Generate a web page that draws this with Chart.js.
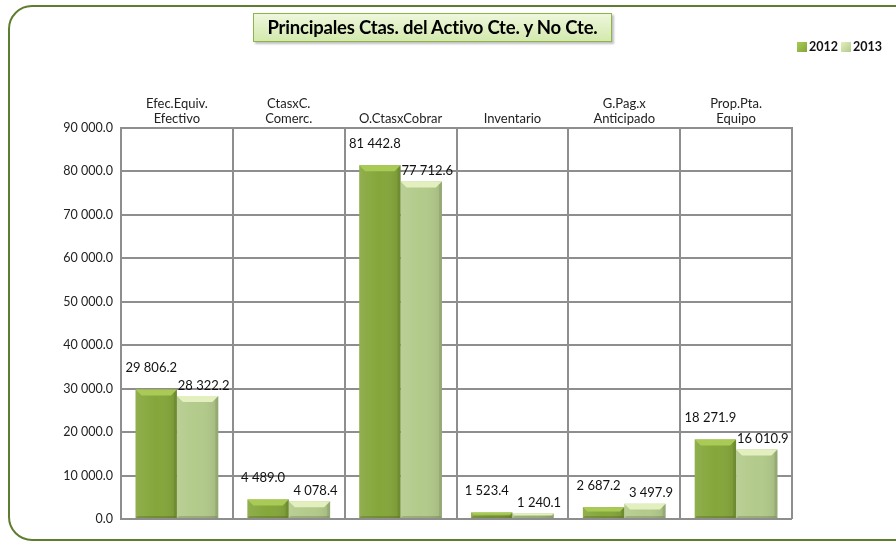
<!DOCTYPE html>
<html>
<head>
<meta charset="utf-8">
<script src="https://cdn.jsdelivr.net/npm/chart.js@4.4.0/dist/chart.umd.min.js"></script>
<style>
html, body { margin: 0; padding: 0; background: #fff; overflow: hidden; }
#wrap { position: relative; width: 896px; height: 544px; }
#frame { position: absolute; left: 8px; top: 5px; width: 960px; height: 532px; border: 2px solid #5e7d2e; border-radius: 24px; }
#title { position: absolute; left: 253px; top: 13px; width: 357px; height: 27px; border: 1.5px solid #8db54c;
  background: linear-gradient(#eef7dc, #d3e9ad); font: bold 18.5px Lato, sans-serif; color: #000;
  text-align: center; line-height: 27px; box-shadow: 2px 2px 2px rgba(0,0,0,.25); letter-spacing: -0.2px; }
canvas { position: absolute; left: 0; top: 0; }
</style>
</head>
<body>
<div id="wrap">
  <div id="frame"></div>
  <canvas id="chart" width="896" height="544"></canvas>
  <div id="title">Principales Ctas. del Activo Cte. y No Cte.</div>
</div>
<script>
const categories = [['Efec.Equiv.', 'Efectivo'], ['CtasxC.', 'Comerc.'], 'O.CtasxCobrar', 'Inventario', ['G.Pag.x', 'Anticipado'], ['Prop.Pta.', 'Equipo']];
const seriesNames = ['2012', '2013'];
const values2012 = [29806.2, 4489.0, 81442.8, 1523.4, 2687.2, 18271.9];
const values2013 = [28322.2, 4078.4, 77712.6, 1240.1, 3497.9, 16010.9];
const yMin = 0, yMax = 90000, yStep = 10000;

const baseColors = ['#84a63a', '#b2ca8a'];
const bevelColors = ['#a9cb55', '#e4efbf'];

function fmt(v) {
    let s = Number(v).toFixed(1);
    let parts = s.split('.');
    parts[0] = parts[0].replace(/\B(?=(\d{3})+(?!\d))/g, ' ');
    return parts.join('.');
}

function poly(ctx, pts, color) {
    ctx.beginPath();
    ctx.moveTo(pts[0][0], pts[0][1]);
    for (let k = 1; k < pts.length; k++) ctx.lineTo(pts[k][0], pts[k][1]);
    ctx.closePath();
    ctx.fillStyle = color;
    ctx.fill();
}

// bevel look + value labels + legend
const decor = {
    id: 'decor',
    afterDatasetsDraw(chart) {
        const ctx = chart.ctx;
        ctx.save();
        chart.data.datasets.forEach((ds, i) => {
            chart.getDatasetMeta(i).data.forEach((bar) => {
                const p = bar.getProps(['x', 'y', 'base', 'width'], true);
                const l = p.x - p.width / 2, r = p.x + p.width / 2, t = p.y, b = p.base;
                const bv = Math.min(6, (b - t) / 2.5);
                const sh = ctx.createLinearGradient(l, 0, r, 0);
                sh.addColorStop(0, 'rgba(255,255,255,0.10)');
                sh.addColorStop(0.5, 'rgba(255,255,255,0)');
                sh.addColorStop(1, 'rgba(0,0,0,0.10)');
                ctx.fillStyle = sh;
                ctx.fillRect(l, t, r - l, b - t);
                poly(ctx, [[l, t], [r, t], [r - bv, t + bv], [l + bv, t + bv]], bevelColors[i]);
                poly(ctx, [[r, t], [r - 3, t + 3], [r - 3, b - 2], [r, b]], 'rgba(0,0,0,0.08)');
                poly(ctx, [[l, b], [l + 2, b - 2], [r - 2, b - 2], [r, b]], 'rgba(0,0,0,0.15)');
            });
        });
        ctx.font = '13px Lato, sans-serif';
        ctx.fillStyle = '#111';
        ctx.textAlign = 'center';
        ctx.textBaseline = 'bottom';
        chart.data.datasets.forEach((ds, i) => {
            chart.getDatasetMeta(i).data.forEach((bar, j) => {
                const lift = i === 0 ? 15 : 4;
                const shift = i === 0 ? -5 : 6;
                ctx.fillText(fmt(ds.data[j]), bar.x + shift, bar.y - lift);
            });
        });
        // legend
        let lx = 797;
        const ly = 47;
        ctx.font = 'bold 12.5px Lato, sans-serif';
        ctx.textAlign = 'left';
        ctx.textBaseline = 'middle';
        chart.data.datasets.forEach((ds, i) => {
            const g = ctx.createLinearGradient(lx, ly - 5, lx + 10, ly + 5);
            g.addColorStop(0, bevelColors[i]);
            g.addColorStop(1, baseColors[i]);
            ctx.fillStyle = g;
            ctx.fillRect(lx, ly - 5, 10, 10);
            ctx.fillStyle = '#111';
            ctx.fillText(ds.label, lx + 12, ly);
            lx += 12 + ctx.measureText(ds.label).width + 3;
        });
        ctx.restore();
    }
};

const gridColor = '#8e8e8e';

new Chart(document.getElementById('chart'), {
    type: 'bar',
    data: {
        labels: categories,
        datasets: [
            { label: seriesNames[0], data: values2012, backgroundColor: baseColors[0] },
            { label: seriesNames[1], data: values2013, backgroundColor: baseColors[1] }
        ]
    },
    options: {
        responsive: false,
        animation: false,
        devicePixelRatio: 1,
        categoryPercentage: 0.74,
        barPercentage: 1,
        layout: { padding: { top: 0, right: 104, bottom: 25, left: 0 } },
        plugins: {
            legend: { display: false },
            title: { display: false },
            tooltip: { enabled: false }
        },
        scales: {
            x: {
                position: 'top',
                afterFit(scale) { scale.height = 128; },
                grid: { color: gridColor, lineWidth: 2, drawTicks: false, offset: true },
                border: { color: gridColor, width: 2 },
                ticks: { color: '#222', padding: 2, maxRotation: 0, autoSkip: false,
                    font: { family: 'Lato', size: 13, lineHeight: 1.15 } }
            },
            y: {
                min: yMin,
                max: yMax,
                afterFit(scale) { scale.width = 121; },
                grid: { color: gridColor, lineWidth: 2, drawTicks: false },
                border: { color: gridColor, width: 2 },
                ticks: { stepSize: yStep, color: '#222', padding: 8,
                    font: { family: 'Lato', size: 12.5 },
                    callback: (v) => fmt(v) }
            }
        }
    },
    plugins: [decor]
});
</script>
</body>
</html>
